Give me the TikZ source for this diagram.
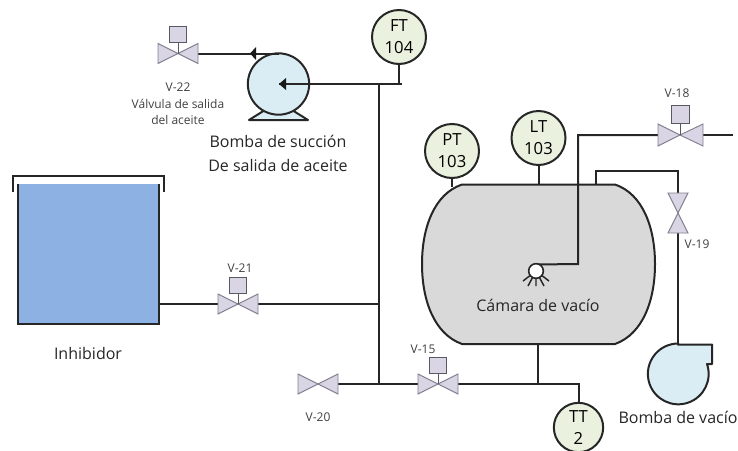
\documentclass[tikz,border=0pt]{standalone}
\usepackage{fontspec}
\setmainfont{Open Sans}
\definecolor{valvec}{HTML}{DAD5E4}
\definecolor{valveline}{HTML}{7F7F8F}
\definecolor{instc}{HTML}{EAF1DE}
\definecolor{pumpc}{HTML}{DAEDF4}
\definecolor{vesselc}{HTML}{D9D9D9}
\definecolor{tankc}{HTML}{8EB1E4}
\definecolor{labelc}{HTML}{404040}
\tikzset{
 pipe/.style={draw=black!85,line width=1.5pt},
 outline/.style={draw=black!85,line width=1.5pt},
 inst/.style={circle,draw=black!85,line width=1.5pt,fill=instc,minimum size=40.5pt,inner sep=0pt,align=center,font=\fontsize{12.5}{16.5}\selectfont},
 tag/.style={font=\fontsize{9}{12.5}\selectfont,text=labelc,align=center,inner sep=0pt},
 big/.style={font=\fontsize{12}{18}\selectfont,text=black!85,align=center,inner sep=0pt},
 tri/.style={draw=valveline,line width=.7pt,fill=valvec},
 act/.style={draw=valveline!70!black,line width=.7pt,fill=valvec},
}
\newcommand{\hvalve}[1]{%
 \fill[tri] ($(#1)+(-20,-10)$) -- ($(#1)+(-20,10)$) -- (#1) -- cycle;
 \fill[tri] ($(#1)+(20,-10)$) -- ($(#1)+(20,10)$) -- (#1) -- cycle;
}
\newcommand{\avalve}[1]{%
 \hvalve{#1}
 \draw[valveline!70!black,line width=.7pt] (#1) -- ++(0,11);
 \filldraw[act] ($(#1)+(-8.5,11)$) rectangle ($(#1)+(8.5,27)$);
}
\usetikzlibrary{calc}
\begin{document}
\begin{tikzpicture}[x=0.75pt,y=0.75pt]
\useasboundingbox (0,-450) rectangle (738,0);
\clip (0,-450) rectangle (738,0);
\coordinate (v22) at (178,-53.5);
\coordinate (v21) at (238,-304);
\coordinate (v15) at (438,-384);
\coordinate (v20) at (318,-384);
\coordinate (v18) at (680,-135);
\coordinate (v19) at (678,-213);
\coordinate (ptop) at (278.5,-53.5);
\coordinate (pc) at (278.5,-84);
\coordinate (jn) at (378.5,-84);
\coordinate (js) at (378.5,-304);
\coordinate (jb) at (378.5,-384);
\coordinate (ve) at (538,-384);

% tank
\fill[tankc] (18,-184) rectangle (158.5,-324);
\draw[outline] (18,-184) -- (18,-324) -- (158.5,-324) -- (158.5,-184);
\draw[outline] (13,-192) -- (13,-176) -- (164,-176) -- (164,-192);
\node[big] (inh) at (88,-353) {Inhibidor};

% vessel
\path[fill=vesselc,outline] (462,-184.5) -- (615,-184.5)
  .. controls (643,-194) and (655,-228) .. (655,-264)
  .. controls (655,-300) and (643,-334) .. (615,-344)
  -- (462,-344)
  .. controls (434,-334) and (422,-300) .. (422,-264)
  .. controls (422,-228) and (434,-194) .. (462,-184.5) -- cycle;
\node[big] (cam) at (538,-305) {Cámara de vacío};

% instruments
\node[inst] (ft) at (399,-37) {FT\\104};
\node[inst] (pt) at (452,-151) {PT\\103};
\node[inst] (lt) at (538.5,-138) {LT\\103};
\node[inst,minimum size=37pt,font=\fontsize{12.5}{17}\selectfont] (tt) at (578.5,-427.5) {TT\\2};

% pipes
\draw[pipe] (v22)++(20,0) -- (ptop);
\draw[pipe] (pt.south) -- (452,-187);
\draw[pipe] (lt.south) -- (538.5,-184.5);
\draw[pipe] (ft.south) -- (399,-84);
\draw[pipe] (jn) -- (jb);
\draw[pipe] (158.5,-304) -- (js);
\draw[pipe] (338,-384) -- (418,-384);
\draw[pipe] (458,-384) -- (578.5,-384) -- (tt.north);
\draw[pipe] (ve) -- (538,-344);
\draw[pipe] (703,-135) -- (733,-135);
\draw[pipe] (658,-135) -- (578,-135) -- (578,-264) -- (536,-264.5);
\draw[pipe] (596,-184.5) -- (596,-171) -- (678,-171) -- (678,-193);
\draw[pipe] (678,-233) -- (678,-344);

% oil pump
\path[fill=pumpc,outline,line join=round] (249,-120) -- (308,-120) -- (292,-110) -- (265,-110) -- cycle;
\node[circle,draw=black!85,line width=1.5pt,fill=pumpc,minimum size=46pt,inner sep=0pt] (pump) at (pc) {};
\draw[pipe] (402,-84) -- (279,-84);
\fill[black!90] (279,-84) -- (286,-78) -- (286,-90) -- cycle;
\draw[pipe] (ptop) -- (250,-53.5);
\fill[black!90] (250,-53.5) -- (256,-47) -- (256,-60) -- cycle;

% vacuum pump
\path[fill=pumpc,outline,line join=round] (678,-344.5) -- (712,-344.5) -- (712,-364) -- (707,-364)
  arc[start angle=19,end angle=-270,radius=22.8pt] -- cycle;

% sensor
\draw[black!85,line width=1.1pt]
  (536,-271) -- (523,-281) (536,-271) -- (549,-281)
  (536,-271) -- (536,-286) (536,-271) -- (528,-286) (536,-271) -- (544,-286);
\node[circle,draw=black!85,line width=1.2pt,fill=white,minimum size=11pt,inner sep=0pt] (sens) at (536,-271) {};

% valves
\avalve{v22}
\avalve{v21}
\avalve{v15}
\hvalve{v20}
\begin{scope}
\fill[tri] (658,-124) -- (658,-146) -- (v18) -- cycle;
\fill[tri] (703,-124) -- (703,-146) -- (v18) -- cycle;
\draw[valveline!70!black,line width=.7pt] (v18) -- (680,-123);
\filldraw[act] (671,-105) rectangle (689,-123);
\fill[tri] (668,-193) -- (688,-193) -- (v19) -- cycle;
\fill[tri] (668,-233) -- (688,-233) -- (v19) -- cycle;
\end{scope}

% labels
\node[tag] (l22) at (178,-87) {V-22};
\node[tag] (l22b) at (178,-112) {Válvula de salida\\del aceite};
\node[tag] (l21) at (240,-268) {V-21};
\node[tag] (l15) at (423,-349) {V-15};
\node[tag] (l20) at (318,-417) {V-20};
\node[tag] (l18) at (677,-93) {V-18};
\node[tag] (l19) at (697,-244) {V-19};
\node[big] (bs) at (278,-153) {Bomba de succión\\De salida de aceite};
\node[big] (bv) at (678,-417) {Bomba de vacío};
\end{tikzpicture}
\end{document}
